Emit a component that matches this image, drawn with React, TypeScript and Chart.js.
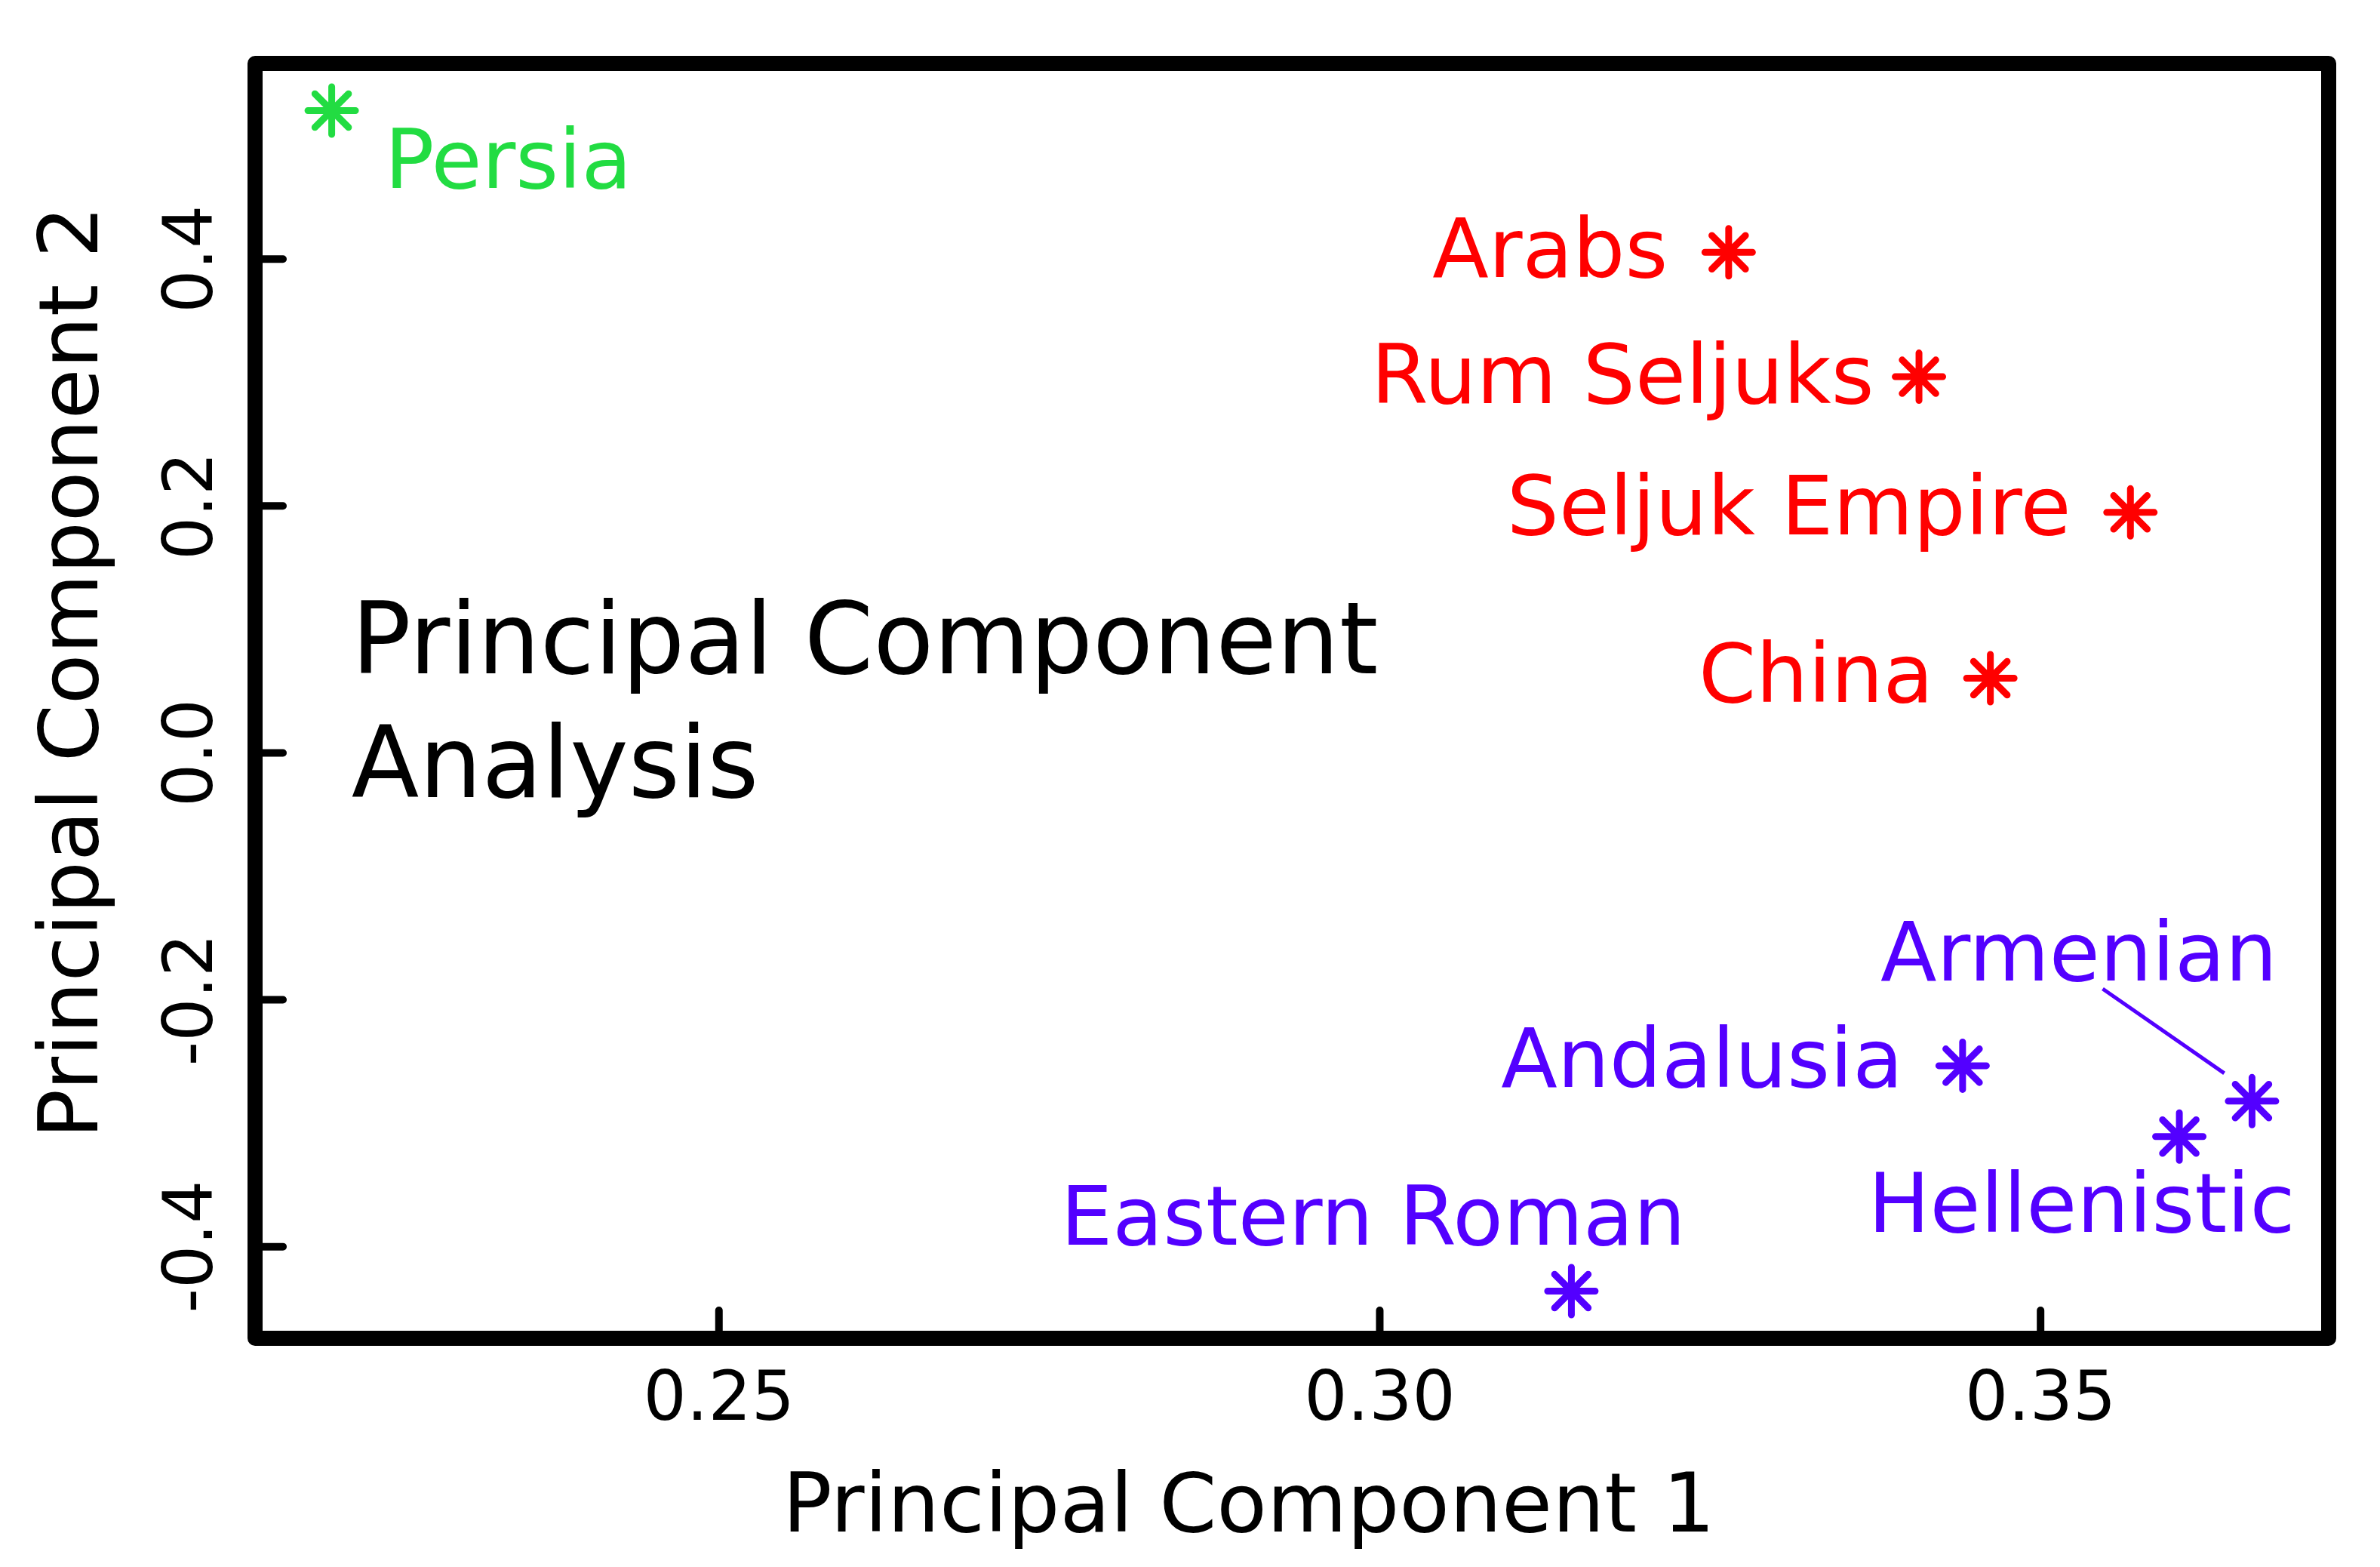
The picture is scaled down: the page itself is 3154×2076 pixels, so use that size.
import React, { useEffect, useRef } from "react";
import { Chart, registerables } from "chart.js";

Chart.register(...registerables);

// ---- data ----
const names = ["Persia", "Arabs", "Rum Seljuks", "Seljuk Empire", "China", "Andalusia", "Armenian", "Hellenistic", "Eastern Roman"];
const pc1 = [0.2207, 0.3264, 0.3408, 0.3568, 0.3462, 0.3441, 0.366, 0.3605, 0.3145];
const pc2 = [0.5203, 0.4055, 0.3047, 0.1948, 0.0605, -0.2534, -0.2821, -0.3108, -0.436];
const groups = ["g", "r", "r", "r", "r", "b", "b", "b", "b"];

// label anchors (data units) and alignment
const labelX = [0.2247, 0.3218, 0.3374, 0.3523, 0.3419, 0.3396, 0.3529, 0.3531, 0.2995];
const labelY = [0.4574, 0.3853, 0.2834, 0.1771, 0.0415, -0.2705, -0.1844, -0.3878, -0.3982];
const labelAlign: CanvasTextAlign[] = ["left", "right", "right", "right", "right", "right", "center", "center", "center"];

// leader line for Armenian (data units)
const leaderX = [0.3547, 0.3639];
const leaderY = [-0.1911, -0.2595];

// annotation
const noteLines = ["Principal Component", "Analysis"];
const noteX = 0.2222;
const noteY = [0.0647, -0.036];

const xTicks = [0.25, 0.3, 0.35];
const yTicks = [-0.4, -0.2, 0.0, 0.2, 0.4];
const xRange = [0.2149, 0.3718];
const yRange = [-0.4742, 0.5585];

const xTitle = "Principal Component 1";
const yTitle = "Principal Component 2";

const groupColors: Record<string, string> = { g: "#22DC42", r: "#FF0000", b: "#5300FF" };
const FONT = "'DejaVu Sans', 'Bitstream Vera Sans', Verdana, sans-serif";

export default function App() {
  const ref = useRef<HTMLCanvasElement | null>(null);

  useEffect(() => {
    const canvas = ref.current;
    if (!canvas) return;

    const groupKeys = ["g", "r", "b"];
    const datasets = groupKeys.map((k) => ({
      label: k,
      data: pc1
        .map((x, i) => ({ x, y: pc2[i], g: groups[i] }))
        .filter((p) => p.g === k)
        .map((p) => ({ x: p.x, y: p.y })),
      pointStyle: "star" as const,
      pointRadius: 31.5,
      pointHoverRadius: 31.5,
      pointBorderWidth: 9,
      pointBorderColor: groupColors[k],
      pointBackgroundColor: groupColors[k],
      showLine: false,
    }));

    const capPlugin = {
      id: "roundCaps",
      beforeDatasetsDraw(chart: any) {
        chart.ctx.save();
        chart.ctx.lineCap = "round";
      },
      afterDatasetsDraw(chart: any) {
        chart.ctx.restore();
      },
    };

    const framePlugin = {
      id: "frameTicks",
      afterDraw(chart: any) {
        const { ctx, chartArea } = chart;
        const { left, right, top, bottom } = chartArea;
        const xs = chart.scales.x;
        const ys = chart.scales.y;
        ctx.save();
        // point labels
        ctx.textBaseline = "alphabetic";
        ctx.font = `109px ${FONT}`;
        names.forEach((n, i) => {
          ctx.fillStyle = groupColors[groups[i]];
          ctx.textAlign = labelAlign[i];
          ctx.fillText(n, xs.getPixelForValue(labelX[i]), ys.getPixelForValue(labelY[i]));
        });
        // leader line
        ctx.strokeStyle = groupColors.b;
        ctx.lineWidth = 5;
        ctx.beginPath();
        ctx.moveTo(xs.getPixelForValue(leaderX[0]), ys.getPixelForValue(leaderY[0]));
        ctx.lineTo(xs.getPixelForValue(leaderX[1]), ys.getPixelForValue(leaderY[1]));
        ctx.stroke();
        // annotation
        ctx.fillStyle = "#000";
        ctx.textAlign = "left";
        ctx.font = `131px ${FONT}`;
        noteLines.forEach((t, i) => {
          ctx.fillText(t, xs.getPixelForValue(noteX), ys.getPixelForValue(noteY[i]));
        });
        // axis titles
        ctx.font = `109px ${FONT}`;
        ctx.textAlign = "center";
        ctx.textBaseline = "middle";
        ctx.fillText(xTitle, (left + right) / 2 - 57, 2001);
        ctx.save();
        ctx.translate(101, (top + bottom) / 2 - 38);
        ctx.rotate(-Math.PI / 2);
        ctx.fillText(yTitle, 0, 0);
        ctx.restore();
        // ticks (inside)
        ctx.strokeStyle = "#000";
        ctx.lineCap = "round";
        ctx.lineWidth = 10;
        ctx.beginPath();
        xs.ticks.forEach((t: any) => {
          const p = xs.getPixelForValue(t.value);
          ctx.moveTo(p, bottom);
          ctx.lineTo(p, bottom - 37);
        });
        ys.ticks.forEach((t: any) => {
          const p = ys.getPixelForValue(t.value);
          ctx.moveTo(left, p);
          ctx.lineTo(left + 37, p);
        });
        ctx.stroke();
        // frame
        ctx.lineWidth = 20;
        ctx.lineJoin = "round";
        ctx.lineCap = "butt";
        ctx.strokeRect(left, top, right - left, bottom - top);
        ctx.restore();
      },
    };

    const chart = new Chart(canvas, {
      type: "scatter",
      data: { datasets },
      options: {
        animation: false,
        responsive: false,
        events: [],
        layout: { padding: { top: 84, right: 68, left: 0, bottom: 0 } },
        plugins: { legend: { display: false }, tooltip: { enabled: false } },
        scales: {
          x: {
            type: "linear",
            min: xRange[0],
            max: xRange[1],
            afterBuildTicks: (s: any) => {
              s.ticks = xTicks.map((v) => ({ value: v }));
            },
            afterFit: (s: any) => {
              s.height = 303;
            },
            grid: { display: false },
            border: { display: false },
            ticks: {
              autoSkip: false,
              maxRotation: 0,
              minRotation: 0,
              padding: 23,
              color: "#000",
              font: { family: FONT, size: 90 },
              callback: (v: any) => Number(v).toFixed(2),
            },
            title: { display: false },
          },
          y: {
            type: "linear",
            min: yRange[0],
            max: yRange[1],
            afterBuildTicks: (s: any) => {
              s.ticks = yTicks.map((v) => ({ value: v }));
            },
            afterFit: (s: any) => {
              s.width = 338;
            },
            grid: { display: false },
            border: { display: false },
            ticks: {
              autoSkip: false,
              minRotation: 90,
              maxRotation: 90,
              crossAlign: "center",
              padding: -15,
              color: "#000",
              font: { family: FONT, size: 90 },
              callback: (v: any) => Number(v).toFixed(1),
            },
            title: { display: false },
          },
        },
      },
      plugins: [capPlugin, framePlugin],
    } as any);

    return () => chart.destroy();
  }, []);

  return (
    <div style={{ position: "fixed", left: 0, top: 0, width: 3154, height: 2076, background: "#fff" }}>
      <canvas ref={ref} width={3154} height={2076} style={{ display: "block", width: 3154, height: 2076 }} />
    </div>
  );
}
